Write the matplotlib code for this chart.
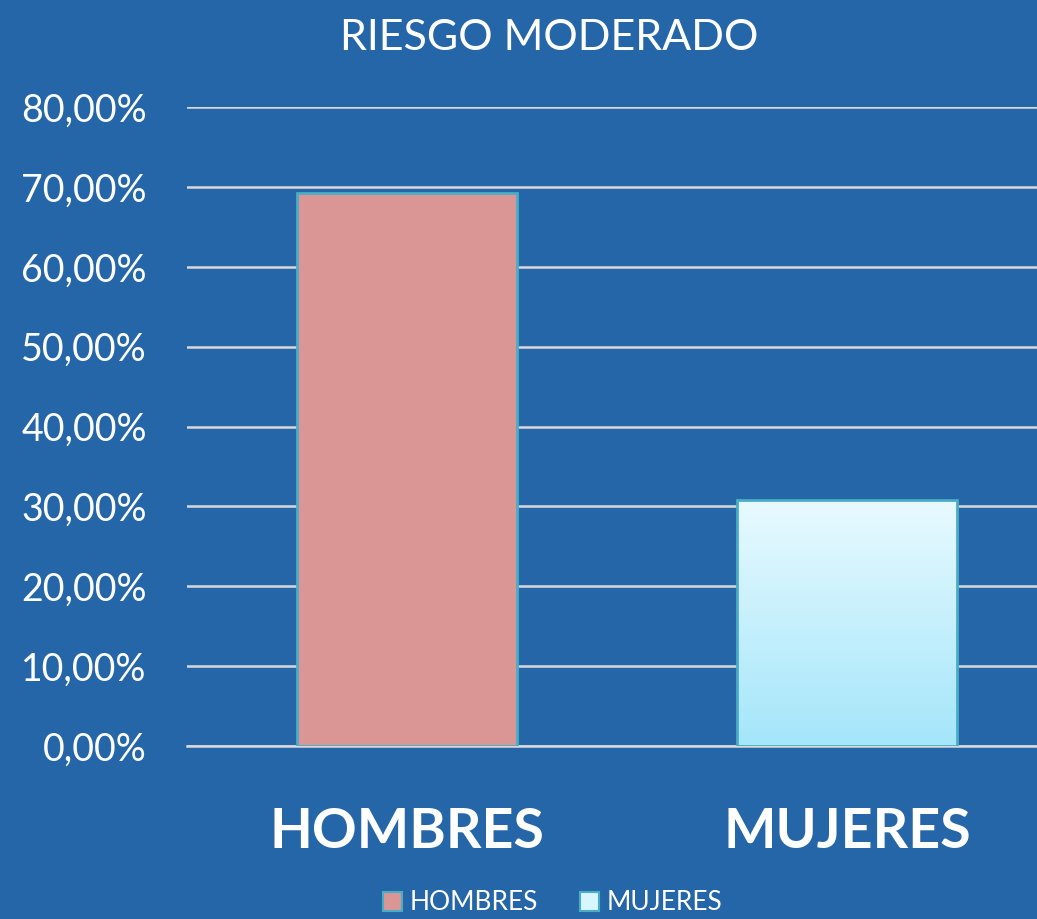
import numpy as np
import matplotlib
matplotlib.use('Agg')
import matplotlib.pyplot as plt
from matplotlib.patches import Patch

# datos
categorias = ['HOMBRES', 'MUJERES']
valores = [69.2, 30.8]
ticks = [0, 10, 20, 30, 40, 50, 60, 70, 80]
titulo = 'RIESGO MODERADO'

fondo = '#2566A8'
borde = '#4BACC6'

plt.rcParams['font.family'] = ['Lato', 'DejaVu Sans']

fig = plt.figure(figsize=(10.37, 9.19), dpi=100, facecolor=fondo)
ax = fig.add_axes([187/1037, 173/919, 880/1037, 639/919])
ax.set_facecolor(fondo)

x = np.arange(len(categorias))
barras = ax.bar(x, valores, width=0.5, color=['#D99694', 'none'],
                edgecolor=borde, linewidth=2, zorder=3)

# degradado de la barra de mujeres
b = barras[1]
grad = np.linspace(0, 1, 256).reshape(-1, 1)
cmap = matplotlib.colors.LinearSegmentedColormap.from_list('g', ['#A4E6FA', '#E8FAFF'])
im = ax.imshow(grad, cmap=cmap, origin='lower', aspect='auto',
               extent=[b.get_x(), b.get_x() + b.get_width(), 0, b.get_height()], zorder=2)
im.set_clip_path(b)

ax.set_xlim(-0.5, 1.5)
ax.set_ylim(0, 80)
ax.set_yticks(ticks)
ax.set_yticklabels(['%d,00%%' % t for t in ticks])
ax.yaxis.grid(True, color='#D9D9D9', linewidth=1.8, zorder=0)
ax.axhline(0, color='#D9D9D9', linewidth=1.8, clip_on=False, zorder=1)
ax.set_axisbelow(True)
for s in ax.spines.values():
    s.set_visible(False)
ax.tick_params(axis='y', length=0, pad=29, labelsize=27, labelcolor='white')
ax.set_xticks(x)
ax.set_xticklabels(categorias, fontsize=40, fontweight='bold', color='white')
ax.tick_params(axis='x', length=0, pad=44)

fig.text(549/1037, 1 - 38/919, titulo, ha='center', va='center',
         fontsize=31, color='white')

handles = [Patch(facecolor='#D99694', edgecolor=borde, linewidth=1.5),
           Patch(facecolor='#D8F6FE', edgecolor=borde, linewidth=1.5)]
fig.legend(handles, categorias, loc='center', bbox_to_anchor=(553/1037, 1 - 903/919),
           ncol=2, frameon=False, fontsize=19, labelcolor='white',
           handlelength=0.7, handleheight=0.7, handletextpad=0.3, columnspacing=1.6,
           borderpad=0.1)

fig.savefig('out.png', dpi=100, facecolor=fondo)
